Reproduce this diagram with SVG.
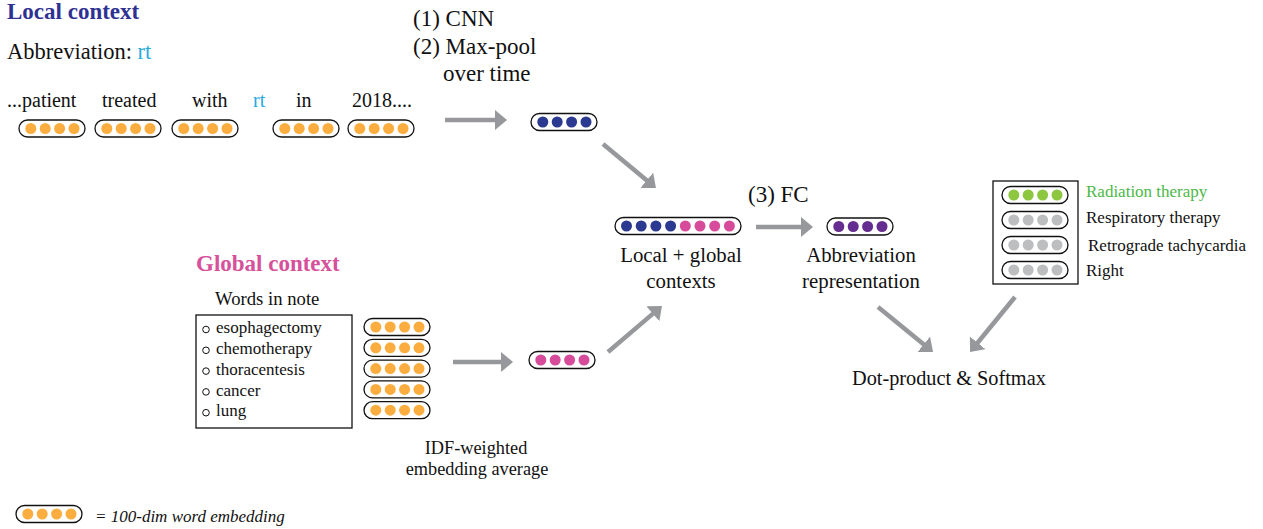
<svg xmlns="http://www.w3.org/2000/svg" xmlns:xlink="http://www.w3.org/1999/xlink" width="1263" height="529" viewBox="0 0 1263 529">
<style>
text{font-family:"Liberation Serif","Times New Roman",serif;fill:#111}
.h{font-weight:bold;font-size:23px}
.w{font-size:20px}
.m{font-size:20.8px}
.s{font-size:17px}
.c{text-anchor:middle}
.pillbox{fill:#fff;stroke:#111;stroke-width:1.3}
.arr{stroke:#97989b;stroke-width:4.5;fill:none;marker-end:url(#ah)}
.box{fill:#fff;stroke:#111;stroke-width:1.3}
</style>
<defs>
<marker id="ah" markerUnits="userSpaceOnUse" markerWidth="14" markerHeight="22" refX="1" refY="10" orient="auto" viewBox="0 0 14 22">
<path d="M0,0 L12,10 L0,20 Z" fill="#97989b"/>
</marker>
<g id="pill4">
<rect class="pillbox" x="0" y="-8.5" width="66" height="17" rx="8.5"/>
<circle cx="11.8" cy="0" r="5.5" fill="currentColor"/>
<circle cx="26.2" cy="0" r="5.5" fill="currentColor"/>
<circle cx="40.6" cy="0" r="5.5" fill="currentColor"/>
<circle cx="55" cy="0" r="5.5" fill="currentColor"/>
</g>
</defs>

<g id="local-context">
<text class="h" x="7" y="19" style="fill:#2e3192">Local context</text>
<text x="7" y="59" style="font-size:22.5px">Abbreviation: <tspan style="fill:#27aae1">rt</tspan></text>
<text class="w" x="7" y="107">...patient</text>
<text class="w" x="102" y="107">treated</text>
<text class="w" x="192" y="107">with</text>
<text class="w" x="253" y="107" style="fill:#27aae1">rt</text>
<text class="w" x="296" y="107">in</text>
<text class="w" x="352" y="107">2018....</text>
<use xlink:href="#pill4" href="#pill4" x="19" y="128.5" style="color:#fbae3f"/>
<use xlink:href="#pill4" href="#pill4" x="95" y="128.5" style="color:#fbae3f"/>
<use xlink:href="#pill4" href="#pill4" x="172" y="128.5" style="color:#fbae3f"/>
<use xlink:href="#pill4" href="#pill4" x="273" y="128.5" style="color:#fbae3f"/>
<use xlink:href="#pill4" href="#pill4" x="348" y="128.5" style="color:#fbae3f"/>
</g>

<g id="cnn-label">
<text x="413" y="26" style="font-size:23px">(1) CNN</text>
<text x="413" y="54" style="font-size:23px">(2) Max-pool</text>
<text x="443" y="81" style="font-size:23px">over time</text>
</g>

<g id="local-vector">
<use xlink:href="#pill4" href="#pill4" x="531" y="122" style="color:#2b3990"/>
</g>

<g id="global-context">
<text class="h" x="196" y="271" style="fill:#d6509b">Global context</text>
<text x="215" y="305" style="font-size:18.7px">Words in note</text>
<rect class="box" x="196" y="315" width="156" height="113"/>
<g fill="none" stroke="#111" stroke-width="1">
<circle cx="206" cy="329.5" r="3.3"/>
<circle cx="206" cy="350.3" r="3.3"/>
<circle cx="206" cy="371.1" r="3.3"/>
<circle cx="206" cy="391.9" r="3.3"/>
<circle cx="206" cy="412.7" r="3.3"/>
</g>
<text class="s" x="216" y="333">esophagectomy</text>
<text class="s" x="216" y="354">chemotherapy</text>
<text class="s" x="216" y="375">thoracentesis</text>
<text class="s" x="216" y="396">cancer</text>
<text class="s" x="216" y="416">lung</text>
<use xlink:href="#pill4" href="#pill4" x="364" y="327" style="color:#fbae3f"/>
<use xlink:href="#pill4" href="#pill4" x="364" y="347.8" style="color:#fbae3f"/>
<use xlink:href="#pill4" href="#pill4" x="364" y="368.6" style="color:#fbae3f"/>
<use xlink:href="#pill4" href="#pill4" x="364" y="389.4" style="color:#fbae3f"/>
<use xlink:href="#pill4" href="#pill4" x="364" y="410.2" style="color:#fbae3f"/>
</g>

<g id="global-vector">
<use xlink:href="#pill4" href="#pill4" x="529" y="360" style="color:#d64c9a"/>
<text class="c" x="476" y="454" style="font-size:18.3px">IDF-weighted</text>
<text class="c" x="477" y="475" style="font-size:18.3px">embedding average</text>
</g>

<g id="combined">
<rect class="pillbox" x="615" y="217.5" width="126" height="17" rx="8.5"/>
<g fill="#2b3990">
<circle cx="626.5" cy="226" r="5.5"/>
<circle cx="641.2" cy="226" r="5.5"/>
<circle cx="655.9" cy="226" r="5.5"/>
<circle cx="670.6" cy="226" r="5.5"/>
</g>
<g fill="#d64c9a">
<circle cx="685.3" cy="226" r="5.5"/>
<circle cx="700" cy="226" r="5.5"/>
<circle cx="714.7" cy="226" r="5.5"/>
<circle cx="729.4" cy="226" r="5.5"/>
</g>
<text class="m c" x="681" y="262">Local + global</text>
<text class="m c" x="681" y="288">contexts</text>
</g>

<g id="fc-label">
<text x="748" y="202" style="font-size:23px">(3) FC</text>
</g>

<g id="abbrev-repr">
<use xlink:href="#pill4" href="#pill4" x="827" y="226.5" style="color:#662d91"/>
<text class="m c" x="861" y="262">Abbreviation</text>
<text class="m c" x="861" y="288">representation</text>
</g>

<g id="candidates">
<rect class="box" x="993" y="181" width="85" height="103"/>
<use xlink:href="#pill4" href="#pill4" x="1002" y="195" style="color:#8dc63f"/>
<use xlink:href="#pill4" href="#pill4" x="1002" y="220" style="color:#bcbec0"/>
<use xlink:href="#pill4" href="#pill4" x="1002" y="245" style="color:#bcbec0"/>
<use xlink:href="#pill4" href="#pill4" x="1002" y="270" style="color:#bcbec0"/>
<text class="s" x="1086" y="197" style="fill:#4db848">Radiation therapy</text>
<text class="s" x="1086" y="223">Respiratory therapy</text>
<text class="s" x="1088" y="251">Retrograde tachycardia</text>
<text class="s" x="1086" y="276">Right</text>
</g>

<g id="softmax">
<text x="852" y="385" style="font-size:20.3px">Dot-product &amp; Softmax</text>
</g>

<g id="legend">
<use xlink:href="#pill4" href="#pill4" x="16" y="514" style="color:#fbae3f"/>
<text x="95" y="522" style="font-size:17px;font-style:italic">= 100-dim word embedding</text>
</g>

<g id="connectors">
<line class="arr" x1="445" y1="120" x2="496" y2="120"/>
<line class="arr" x1="603" y1="144" x2="647.5" y2="181"/>
<line class="arr" x1="608" y1="352" x2="653.6" y2="313.1"/>
<line class="arr" x1="453" y1="362" x2="502" y2="362"/>
<line class="arr" x1="756" y1="227" x2="802" y2="227"/>
<line class="arr" x1="878" y1="307" x2="924.5" y2="345"/>
<line class="arr" x1="1015" y1="297" x2="977" y2="343.5"/>
</g>
</svg>
